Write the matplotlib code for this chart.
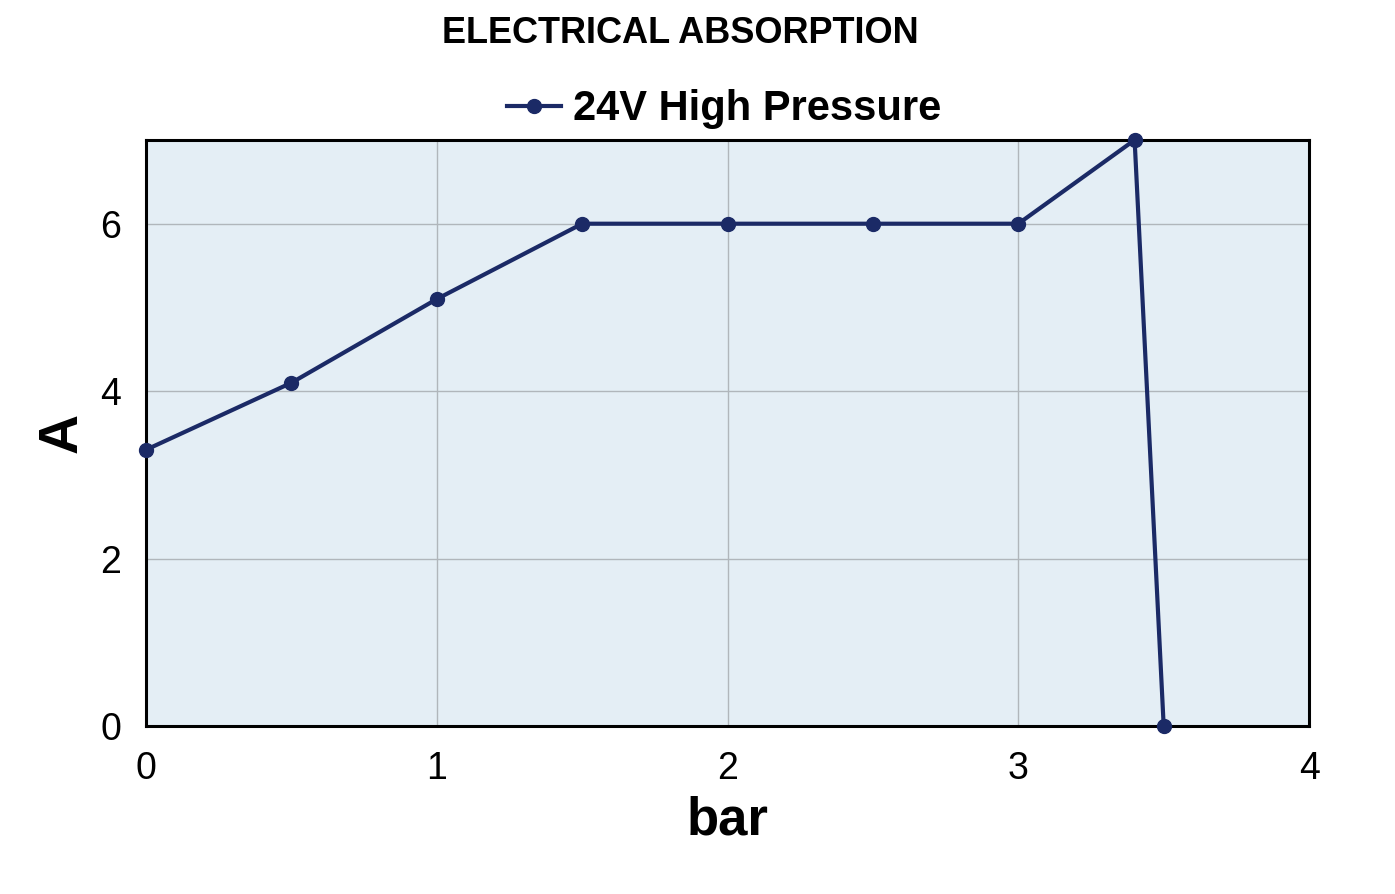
import matplotlib
matplotlib.use("Agg")
import matplotlib.pyplot as plt

# Electrical absorption curve (24V high pressure)
pressure = [0, 0.5, 1, 1.5, 2, 2.5, 3, 3.4, 3.5]
current = [3.3, 4.1, 5.1, 6, 6, 6, 6, 7, 0]
xticks = [0, 1, 2, 3, 4]
yticks = [0, 2, 4, 6]

plt.rcParams['font.family'] = ['Liberation Sans', 'DejaVu Sans']

fig = plt.figure(figsize=(13.95, 8.94), dpi=100)
ax = fig.add_axes([0.1047, 0.1879, 0.8337, 0.6555])

line_color = "#1b2a66"
ax.set_facecolor("#e4eef5")
ax.plot(pressure, current, "-o", color=line_color, linewidth=3, markersize=10,
        label="24V High Pressure", clip_on=False, zorder=3)

ax.set_xlim(0, 4)
ax.set_ylim(0, 7)
ax.set_xticks(xticks)
ax.set_yticks(yticks)
ax.grid(True, color="#b0b6bb", linewidth=1)
ax.tick_params(axis="both", direction="in", length=0, labelsize=27)
ax.tick_params(axis="x", pad=18)
ax.tick_params(axis="y", pad=18)
for s in ax.spines.values():
    s.set_linewidth(2.2)
    s.set_color("black")

ax.set_xlabel("bar", fontsize=38, fontweight="bold", labelpad=6)
ax.set_ylabel("A", fontsize=40, fontweight="bold", labelpad=8)

fig.text(0.488, 0.962, "ELECTRICAL ABSORPTION", ha="center", va="center",
         fontsize=26, fontweight="bold")

leg = ax.legend(loc="lower center", bbox_to_anchor=(0.497, 0.99), frameon=False,
                prop={"size": 30, "weight": "bold"}, handlelength=1.3,
                handletextpad=0.3, borderaxespad=0.0)

fig.savefig("out.png", dpi=100)
